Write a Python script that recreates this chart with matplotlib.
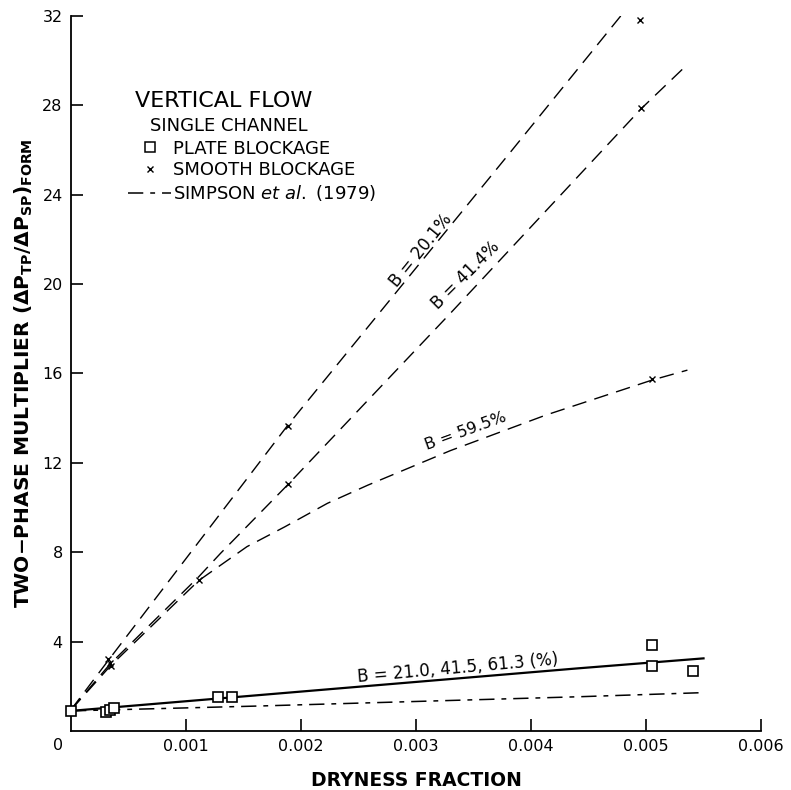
import numpy as np
import matplotlib
matplotlib.use('Agg')
import matplotlib.pyplot as plt
from matplotlib.lines import Line2D

plt.rcParams['font.family'] = ['DejaVu Sans']
plt.rcParams['mathtext.default'] = 'regular'
plt.rcParams['lines.scale_dashes'] = False

# smooth blockage data (x markers)
smooth_x = [0.000325, 0.00034, 0.00035, 0.00111, 0.00189, 0.00189, 0.00495, 0.00496, 0.00505]
smooth_y = [3.2, 3.05, 2.9, 6.75, 13.65, 11.05, 31.8, 27.9, 15.75]

# plate blockage data (squares)
plate_x = [0.0, 0.0003, 0.00034, 0.00037, 0.00128, 0.0014, 0.00505, 0.00505, 0.00541]
plate_y = [0.9, 0.84, 0.94, 1.02, 1.51, 1.51, 3.85, 2.92, 2.68]

# fitted curves for smooth blockage
b201_x = [0.0, 0.00033, 0.00188, 0.00382, 0.00478]
b201_y = [0.95, 3.2, 13.65, 25.9, 32.0]
b414_x = [0.0, 0.00034, 0.00111, 0.0013, 0.00189, 0.0033, 0.00496, 0.00536]
b414_y = [0.95, 3.0, 6.9, 7.95, 11.05, 18.7, 27.86, 29.83]
b595_x = [0.0, 0.00034, 0.00111, 0.00153, 0.00186, 0.00223, 0.00258, 0.0033, 0.00413,
          0.00505, 0.00536]
b595_y = [0.95, 2.9, 6.73, 8.25, 9.14, 10.19, 11.0, 12.55, 14.14, 15.7, 16.15]

# plate blockage fit and Simpson et al.
plate_fit_x = [0.0, 0.0044, 0.0055]
plate_fit_y = [0.9, 2.8, 3.25]
simpson_x = [0.0, 0.00165, 0.0044, 0.00546]
simpson_y = [0.9, 1.12, 1.53, 1.71]

xticks = [0.001, 0.002, 0.003, 0.004, 0.005, 0.006]
xlabels = ['0.001', '0.002', '0.003', '0.004', '0.005', '0.006']
yticks = [4, 8, 12, 16, 20, 24, 28, 32]

fig = plt.figure(figsize=(7.91, 7.90), dpi=100)
ax = fig.add_axes([0.0898, 0.0747, 0.8723, 0.9051])

dash = (10.5, 6)
ax.plot(b201_x, b201_y, color='black', lw=1.0, dashes=dash)
ax.plot(b414_x, b414_y, color='black', lw=1.0, dashes=dash)
ax.plot(b595_x, b595_y, color='black', lw=1.0, dashes=dash)
ax.plot(plate_fit_x, plate_fit_y, color='black', lw=1.6)
ax.plot(simpson_x, simpson_y, color='black', lw=1.1, dashes=(11, 5, 3.5, 5))

ax.plot(smooth_x, smooth_y, ls='none', marker='x', ms=4.5, mew=1.0, color='black')
ax.plot(plate_x, plate_y, ls='none', marker='s', ms=7, mew=1.2, mfc='white', mec='black',
        clip_on=False, zorder=5)

ax.set_xlim(0, 0.006)
ax.set_ylim(0, 32)
ax.set_xticks(xticks, xlabels)
ax.set_yticks(yticks)
ax.tick_params(direction='in', length=8.5, width=1.2, labelsize=11.5, pad=6)
ax.spines['right'].set_visible(False)
ax.spines['top'].set_visible(False)
ax.spines['left'].set_linewidth(1.3)
ax.spines['bottom'].set_linewidth(1.3)
ax.annotate('0', xy=(0, 0), xycoords='data', xytext=(-13, -15), textcoords='offset pixels',
            ha='center', va='center', fontsize=11.5)

ax.set_xlabel('DRYNESS FRACTION', fontsize=13.5, fontweight='bold', labelpad=12)
ax.set_ylabel(r'TWO$-$PHASE MULTIPLIER ($\Delta$P$_{TP}$/$\Delta$P$_{SP}$)$_{FORM}$',
              fontsize=14.5, fontweight='bold', labelpad=5)

# curve labels
ax.text(0.00304, 21.5, 'B = 20.1%', rotation=51, ha='center', va='center', fontsize=12,
        rotation_mode='anchor')
ax.text(0.00343, 20.4, 'B = 41.4%', rotation=45, ha='center', va='center', fontsize=12,
        rotation_mode='anchor')
ax.text(0.00343, 13.4, 'B = 59.5%', rotation=20, ha='center', va='center', fontsize=11.5,
        rotation_mode='anchor')
ax.text(0.00336, 2.8, 'B = 21.0, 41.5, 61.3 (%)', rotation=5, ha='center', va='center',
        fontsize=12, rotation_mode='anchor')

# legend block
ax.text(0.0928, 0.8815, 'VERTICAL FLOW', transform=ax.transAxes, fontsize=16, va='center')
ax.text(0.1145, 0.846, 'SINGLE CHANNEL', transform=ax.transAxes, fontsize=13, va='center')
handles = [Line2D([], [], ls='none', marker='s', ms=7, mew=1.1, mfc='white', mec='black'),
           Line2D([], [], ls='none', marker='x', ms=4.5, mew=1.0, color='black'),
           Line2D([], [], color='black', lw=1.1, dashes=(11, 5, 3.5, 5))]
labels = ['PLATE BLOCKAGE', 'SMOOTH BLOCKAGE', r'SIMPSON $\it{et\ al.}$ (1979)']
ax.legend(handles, labels, loc='upper left', bbox_to_anchor=(0.0826, 0.827), frameon=False,
          fontsize=13, handlelength=2.4, handletextpad=0.1, labelspacing=0.2,
          borderpad=0, borderaxespad=0)

fig.savefig('out.png', dpi=100)
